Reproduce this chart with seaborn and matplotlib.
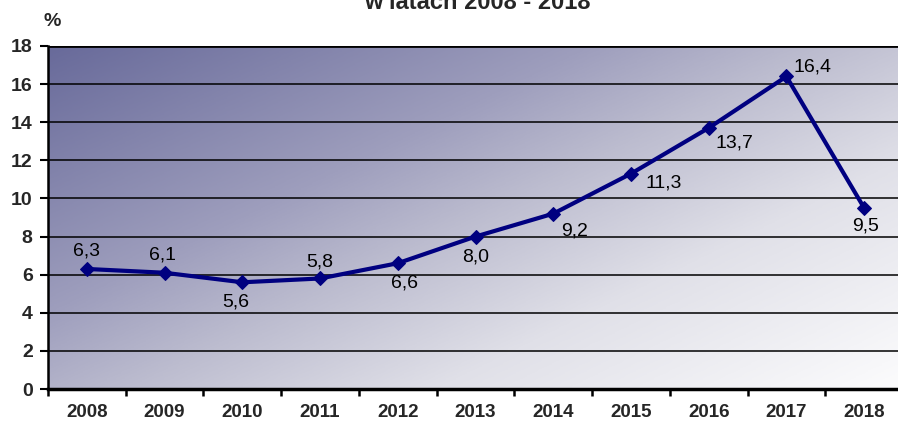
import numpy as np
import pandas as pd
import matplotlib
matplotlib.use("Agg")
import matplotlib.pyplot as plt
import seaborn as sns
from matplotlib.colors import LinearSegmentedColormap

years = ["2008", "2009", "2010", "2011", "2012", "2013", "2014", "2015", "2016", "2017", "2018"]
values = [6.3, 6.1, 5.6, 5.8, 6.6, 8.0, 9.2, 11.3, 13.7, 16.4, 9.5]
labels = ["6,3", "6,1", "5,6", "5,8", "6,6", "8,0", "9,2", "11,3", "13,7", "16,4", "9,5"]
y_ticks = [0, 2, 4, 6, 8, 10, 12, 14, 16, 18]
title = "w latach 2008 - 2018"
unit = "%"

# label offsets in pixels (dx, dy)
offsets = [(0, 18), (-2, 18), (-7, -20), (0, 16), (7, -20), (0, -20),
           (21, -17), (33, -9), (26, -15), (26, 9), (1, -18)]

sns.set_theme(style="white")
plt.rcParams["font.family"] = ["Liberation Sans", "DejaVu Sans"]

fig = plt.figure(figsize=(8.98, 4.21), dpi=100)
ax = fig.add_axes([48/898, 32/421, (903-48)/898, (389-46)/421])

# gradient background (row 0 = top)
n = 300
xx, yy = np.meshgrid(np.linspace(0, 1, n), np.linspace(0, 1, n))
t = xx * 0.55 + yy * 0.45
cmap = LinearSegmentedColormap.from_list(
    "bg", [(0.0, "#686a9a"), (0.35, "#9e9ebd"), (0.5, "#bcbccf"),
           (0.7, "#e0e0e8"), (1.0, "#fcfcfd")])
ax.imshow(t, cmap=cmap, extent=[0, 1, 0, 1], transform=ax.transAxes,
          origin="upper", aspect="auto", zorder=0, interpolation="bilinear")

df = pd.DataFrame({"year": years, "value": values})
df["pos"] = np.arange(len(years))
sns.lineplot(data=df, x="pos", y="value", ax=ax, color="#000080", lw=3,
             marker="D", markersize=7, markeredgecolor="#000080", zorder=5)

for i, (v, lab) in enumerate(zip(values, labels)):
    dx, dy = offsets[i]
    ax.annotate(lab, (i, v), xytext=(dx, dy), textcoords="offset pixels",
                ha="center", va="center", fontsize=14, color="black", zorder=6)

ax.set_xlim(-0.5, len(years) - 0.5)
ax.set_ylim(0, 18)
ax.set_yticks(y_ticks)
ax.set_yticklabels([str(v) for v in y_ticks], fontsize=14, fontweight="bold")
ax.set_xticks(np.arange(len(years)))
ax.set_xticklabels(years, fontsize=13.5, fontweight="bold")
ax.set_xticks(np.arange(len(years) + 1) - 0.5, minor=True)
ax.tick_params(axis="x", which="major", length=0, pad=11)
ax.tick_params(axis="x", which="minor", length=5, width=1.8, color="black", direction="out", bottom=True)
ax.tick_params(axis="y", length=6, width=1.5, color="black", direction="out", left=True, pad=5)
ax.set_xlabel("")
ax.set_ylabel("")
for yv in y_ticks[1:]:
    ax.axhline(yv, color="black", lw=2 if yv == 18 else 1.1, zorder=2)
for s in ["top", "right"]:
    ax.spines[s].set_visible(False)
ax.spines["left"].set_color("black")
ax.spines["left"].set_linewidth(1.8)
ax.spines["bottom"].set_color("black")
ax.spines["bottom"].set_linewidth(2.5)
ax.grid(False)

fig.text(52/898, 1 - 22/421, unit, fontsize=14, fontweight="bold", ha="center", va="center")
fig.text(477/898, 1 - 9/421, title, fontsize=17, fontweight="bold", ha="center", va="baseline")

fig.savefig("out.png", dpi=100)
